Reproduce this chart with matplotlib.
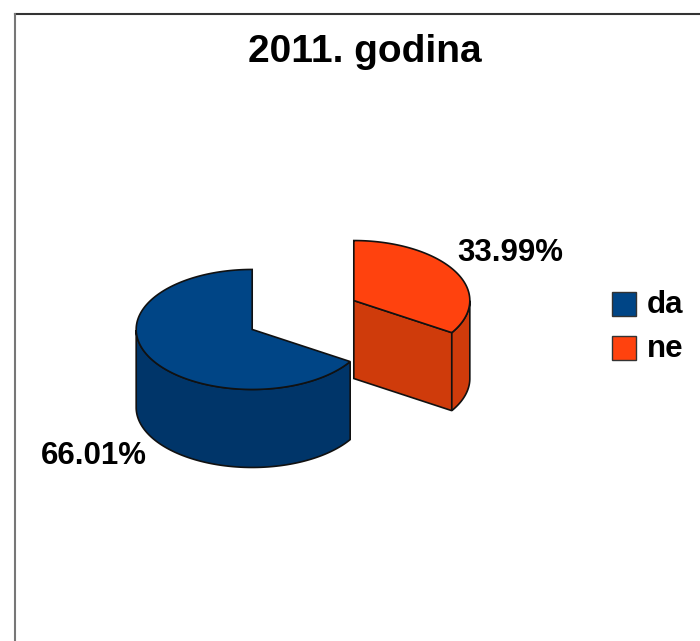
import numpy as np
import matplotlib.pyplot as plt
from matplotlib.patches import Polygon, Rectangle

title = "2011. godina"
labels = ["da", "ne"]
shares = [66.01, 33.99]
top_colors = ["#004586", "#ff420e"]
side_colors = ["#003569", "#cf3b0b"]

# pie geometry, in pixels
cx, cy = 303, 315       # centre of the whole pie (top face)
rx, ry = 116, 60        # ellipse radii
depth = 78              # thickness of the disc
explode = 0.5           # fraction of the radius each slice is pulled out
start_angle = 90
edge = "#111111"

plt.rcParams['font.family'] = ['Liberation Sans', 'DejaVu Sans']

fig = plt.figure(figsize=(7.0, 6.41), dpi=100)
ax = fig.add_axes([0, 0, 1, 1])
ax.set_xlim(0, 700)
ax.set_ylim(641, 0)
ax.axis('off')


def point(ox, oy, theta, r=1.0, z=0.0):
    t = np.radians(theta)
    return ox + rx * r * np.cos(t), oy - ry * r * np.sin(t) + z


fracs = np.array(shares) / sum(shares)
angles = start_angle + 360 * np.concatenate([[0], np.cumsum(fracs)])

for i in range(len(shares)):
    t0, t1 = angles[i], angles[i + 1]
    mid = np.radians((t0 + t1) / 2)
    ox = cx + rx * explode * np.cos(mid)
    oy = cy - ry * explode * np.sin(mid)

    # cut faces that turn towards the viewer
    for t, sign in ((t0, 1), (t1, -1)):
        c = np.cos(np.radians(t))
        if sign * c > 1e-6:
            p = point(ox, oy, t)
            face = [(ox, oy), p, (p[0], p[1] + depth), (ox, oy + depth)]
            ax.add_patch(Polygon(face, closed=True, fc=side_colors[i],
                                 ec=edge, lw=1.2, zorder=2))

    # outer wall, front half only
    th = np.linspace(t0, t1, 400)
    front = th[np.sin(np.radians(th)) <= 0]
    if len(front) > 1:
        upper = [point(ox, oy, t) for t in front]
        lower = [point(ox, oy, t, z=depth) for t in front[::-1]]
        ax.add_patch(Polygon(upper + lower, closed=True, fc=side_colors[i],
                             ec=edge, lw=1.2, zorder=2))

    # top face
    top = [(ox, oy)] + [point(ox, oy, t) for t in th]
    ax.add_patch(Polygon(top, closed=True, fc=top_colors[i],
                         ec=edge, lw=1.2, zorder=3))

# percentage labels
pct_pos = [(94, 456), (510, 253)]
for v, (x, y) in zip(shares, pct_pos):
    ax.text(x, y, f"{v:.2f}%", ha='center', va='center',
            fontsize=22.5, fontweight='bold', color='black')

# legend
for k, name in enumerate(labels):
    y = 304 + 44 * k
    ax.add_patch(Rectangle((612, y - 12), 24, 24, fc=top_colors[k],
                           ec='#333333', lw=1.0, zorder=4))
    ax.text(647, y + 1, name, ha='left', va='center',
            fontsize=22.5, fontweight='bold', color='black')

ax.text(365, 52, title, ha='center', va='center',
        fontsize=28, fontweight='bold', color='black')

# frame
ax.plot([15, 700], [14, 14], color='#333333', lw=1.5, clip_on=False)
ax.plot([15, 15], [14, 641], color='#777777', lw=1.5, clip_on=False)

fig.savefig("out.png", dpi=100)
